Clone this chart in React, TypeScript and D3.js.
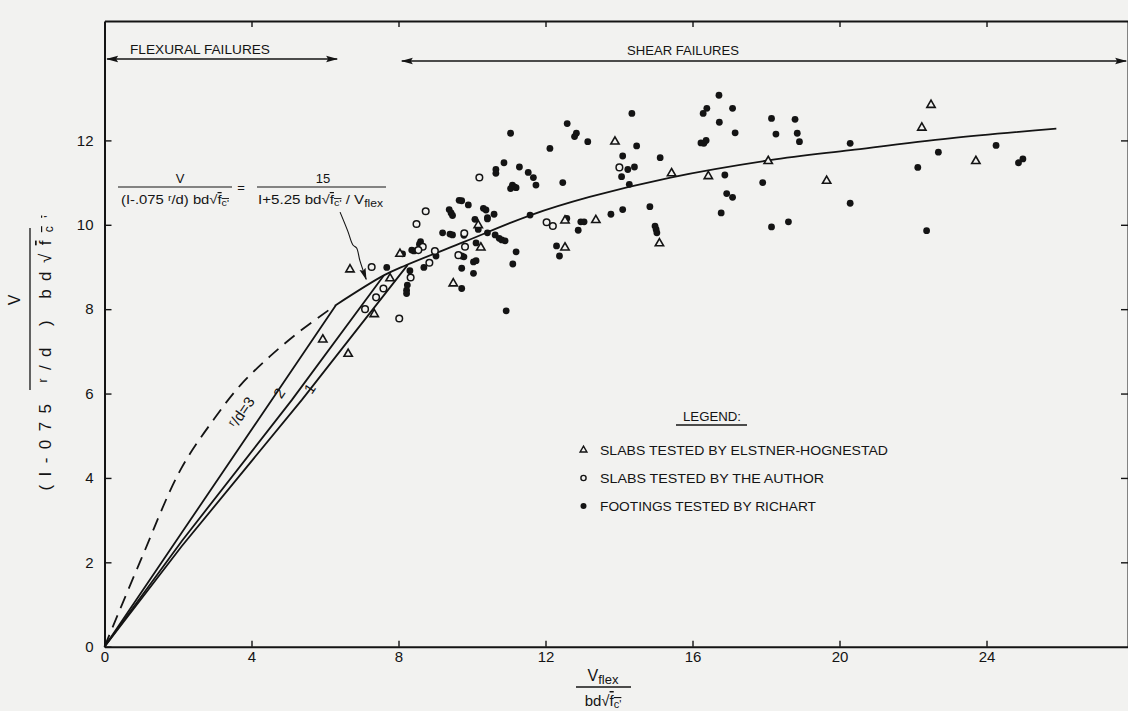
import React, { useRef, useEffect } from "react";
import * as d3 from "d3";

type Pt = [number, number];

// axis ticks
const xTicks = [0, 4, 8, 12, 16, 20, 24];
const yTicks = [0, 2, 4, 6, 8, 10, 12];
const topTicks = [4, 8, 12, 16, 20, 24];
const rightTicks = [2, 4, 6, 8, 10, 12];

// design curves
const shearCurve: Pt[] = [
  [6.3, 8.1], [7.6, 8.8], [8.2, 9.04], [9.8, 9.6], [11.6, 10.23], [13.2, 10.66],
  [15.4, 11.12], [18.1, 11.53], [20.3, 11.77], [23, 12.05], [25.9, 12.28],
];
const dashedCurve: Pt[] = [
  [0, 0], [1, 2.08], [2.06, 4.18], [3, 5.42], [3.7, 6.2], [4.5, 6.88], [5.35, 7.5], [6.3, 8.1],
];
const rd3Line: Pt[] = [[0, 0], [2.1, 2.7], [4.55, 5.85], [6.3, 8.1]];
const rd2Line: Pt[] = [[0, 0], [2.1, 2.5], [5.1, 5.85], [7.6, 8.8]];
const rd1Line: Pt[] = [[0, 0], [2.1, 2.38], [5.37, 5.85], [8.25, 9.05]];

// test results
const elstner: Pt[] = [
  [6.68, 8.94], [8.04, 9.31], [7.77, 8.73], [7.34, 7.88], [10.17, 9.99], [10.24, 9.46],
  [9.49, 8.61], [12.53, 10.1], [12.53, 9.46], [5.94, 7.28], [6.63, 6.94], [13.89, 11.97],
  [13.37, 10.11], [15.1, 9.56], [15.43, 11.22], [16.43, 11.15], [18.06, 11.51], [19.65, 11.04],
  [22.49, 12.84], [22.24, 12.3], [23.71, 11.51],
];
const author: Pt[] = [
  [10.2, 11.12], [8.74, 10.32], [8.49, 10.02], [7.27, 9.0], [9.79, 9.8], [9.81, 9.48],
  [9.63, 9.28], [8.99, 9.38], [8.84, 9.1], [8.66, 9.48], [8.54, 9.4], [8.33, 8.75],
  [7.59, 8.49], [7.39, 8.28], [7.09, 8.0], [8.02, 7.78], [12.03, 10.06], [12.2, 9.97],
  [14.01, 11.36],
];
const richart: Pt[] = [
  [12.12, 11.81], [10.87, 11.47], [10.65, 11.31], [10.65, 11.22], [11.29, 11.37], [11.53, 11.24],
  [11.67, 11.12], [11.74, 10.94], [11.1, 10.94], [11.15, 10.9], [11.05, 10.86], [11.2, 10.88],
  [12.47, 11.0], [9.65, 10.58], [9.72, 10.57], [9.9, 10.47], [9.38, 10.36], [9.43, 10.28],
  [9.47, 10.22], [10.31, 10.39], [10.38, 10.35], [10.42, 10.17], [10.42, 10.14], [10.6, 10.25],
  [10.08, 10.13], [9.2, 9.81], [9.4, 9.78], [9.47, 9.76], [10.17, 9.89], [10.42, 9.81],
  [10.63, 9.76], [10.74, 9.68], [10.81, 9.64], [10.9, 9.62], [11.58, 10.23], [9.78, 9.75],
  [10.11, 9.57], [9.02, 9.26], [8.6, 9.6], [8.57, 9.54], [8.36, 9.4], [8.42, 9.38],
  [8.11, 9.31], [7.68, 8.99], [8.31, 8.91], [8.69, 8.99], [9.72, 9.26], [9.78, 9.24],
  [10.04, 9.12], [10.11, 9.15], [9.72, 8.97], [10.04, 8.85], [9.72, 8.49], [8.24, 8.57],
  [8.22, 8.45], [8.22, 8.37], [11.2, 9.36], [11.11, 9.07], [10.93, 7.96], [12.3, 9.5],
  [12.38, 9.26], [12.58, 10.15], [12.89, 9.87], [12.96, 10.07], [13.05, 10.07], [11.05, 12.17],
  [12.59, 12.4], [12.84, 12.17], [12.79, 12.09], [13.15, 11.97], [14.35, 12.64], [14.48, 11.87],
  [14.1, 11.63], [14.24, 11.31], [14.42, 11.37], [14.07, 11.14], [14.28, 10.96], [15.12, 11.59],
  [13.78, 10.25], [14.1, 10.36], [14.84, 10.43], [14.98, 9.97], [15.01, 9.89], [15.03, 9.81],
  [16.29, 12.64], [16.39, 12.76], [16.72, 13.07], [17.09, 12.76], [16.73, 12.43], [17.16, 12.18],
  [16.23, 11.94], [16.31, 11.93], [16.37, 12.0], [16.88, 11.18], [16.93, 10.74], [17.09, 10.65],
  [16.78, 10.28], [18.15, 12.52], [18.27, 12.15], [18.79, 12.5], [18.85, 12.17], [18.91, 11.97],
  [17.91, 11.0], [18.15, 9.95], [18.61, 10.07], [20.29, 11.93], [20.29, 10.51], [22.69, 11.72],
  [22.13, 11.36], [24.26, 11.88], [24.87, 11.47], [24.99, 11.56], [22.37, 9.86],
];

const legendItems = [
  { kind: "tri", label: "SLABS TESTED BY ELSTNER-HOGNESTAD", len: 288 },
  { kind: "open", label: "SLABS TESTED BY THE AUTHOR", len: 224 },
  { kind: "dot", label: "FOOTINGS TESTED BY RICHART", len: 216 },
];

const W = 1128;
const H = 711;
const INK = "#141414";
const PAPER = "#f2f2f0";
const FONT = "'Liberation Sans', Arial, sans-serif";

const Chart = () => {
  const ref = useRef<SVGSVGElement>(null);

  useEffect(() => {
    if (!ref.current) return;
    const svg = d3.select(ref.current);
    svg.selectAll("*").remove();

    const x = d3.scaleLinear().domain([0, 27.85]).range([104.5, 1128]);
    const y = d3.scaleLinear().domain([0, 14.83]).range([646.7, 21]);

    svg.append("rect").attr("width", W).attr("height", H).attr("fill", PAPER);

    const defs = svg.append("defs");
    defs
      .append("marker")
      .attr("id", "head")
      .attr("viewBox", "0 0 12 8")
      .attr("refX", 11)
      .attr("refY", 4)
      .attr("markerWidth", 12)
      .attr("markerHeight", 8)
      .attr("markerUnits", "userSpaceOnUse")
      .attr("orient", "auto-start-reverse")
      .append("path")
      .attr("d", "M0,0.8 L12,4 L0,7.2 L2,4 Z")
      .attr("fill", INK);

    // axes
    const styleAxis = (g: any) => {
      g.select(".domain").attr("stroke", INK).attr("stroke-width", 2);
      g.selectAll(".tick line").attr("stroke", INK).attr("stroke-width", 1.4);
      g.selectAll("text")
        .attr("fill", INK)
        .attr("font-size", 15)
        .attr("font-family", FONT);
    };

    svg
      .append("g")
      .attr("transform", `translate(0,${y(0)})`)
      .call(d3.axisBottom(x).tickValues(xTicks).tickSize(-6).tickSizeOuter(0).tickPadding(5).tickFormat(d3.format("d")))
      .call(styleAxis);

    svg
      .append("g")
      .attr("transform", `translate(${x(0)},0)`)
      .call(d3.axisLeft(y).tickValues(yTicks).tickSize(-7).tickSizeOuter(0).tickPadding(11).tickFormat(d3.format("d")))
      .call(styleAxis);

    svg
      .append("g")
      .attr("transform", `translate(0,${y(14.83)})`)
      .call(d3.axisTop(x).tickValues(topTicks).tickSize(-6).tickSizeOuter(0).tickFormat(() => ""))
      .call(styleAxis);

    svg
      .append("g")
      .attr("transform", `translate(${x(27.85)},0)`)
      .call(d3.axisRight(y).tickValues(rightTicks).tickSize(-7).tickSizeOuter(0).tickFormat(() => ""))
      .call(styleAxis);

    // curves
    const smooth = d3
      .line<Pt>()
      .x((d) => x(d[0]))
      .y((d) => y(d[1]))
      .curve(d3.curveCatmullRom.alpha(0.5));
    const straight = d3
      .line<Pt>()
      .x((d) => x(d[0]))
      .y((d) => y(d[1]));

    const curves = svg.append("g").attr("fill", "none").attr("stroke", INK).attr("stroke-width", 1.8);
    curves.append("path").attr("d", smooth(shearCurve));
    curves.append("path").attr("d", smooth(dashedCurve)).attr("stroke-dasharray", "13,8");
    curves.append("path").attr("d", straight(rd3Line));
    curves.append("path").attr("d", straight(rd2Line));
    curves.append("path").attr("d", straight(rd1Line));

    // r/d labels along the lines
    const rdLabel = (px: number, py: number, parts: (g: any) => void) => {
      const t = svg
        .append("text")
        .attr("transform", `translate(${x(px)},${y(py)}) rotate(-56)`)
        .attr("text-anchor", "middle")
        .attr("font-size", 15)
        .attr("font-family", FONT)
        .attr("fill", INK);
      parts(t);
    };
    rdLabel(3.85, 5.49, (t) => {
      t.append("tspan").attr("font-size", 11).attr("dy", -4).text("r");
      t.append("tspan").attr("dy", 4).text("/d=3");
    });
    rdLabel(4.87, 5.94, (t) => t.text("2"));
    rdLabel(5.7, 6.05, (t) => t.text("1"));

    // arrow from formula to curve
    const arrowPts: Pt[] = [[6.41, 10.3], [6.62, 9.85], [6.76, 9.52], [6.86, 9.45], [6.95, 9.15], [7.12, 8.71]];
    svg
      .append("path")
      .attr("d", d3.line<Pt>().x((d) => x(d[0])).y((d) => y(d[1])).curve(d3.curveCatmullRom)(arrowPts))
      .attr("fill", "none")
      .attr("stroke", INK)
      .attr("stroke-width", 1.1)
      .attr("marker-end", "url(#head)");

    // points
    const pts = svg.append("g");
    pts
      .selectAll("circle.dot")
      .data(richart)
      .enter()
      .append("circle")
      .attr("class", "dot")
      .attr("cx", (d) => x(d[0]))
      .attr("cy", (d) => y(d[1]))
      .attr("r", 3.4)
      .attr("fill", INK);
    pts
      .selectAll("circle.open")
      .data(author)
      .enter()
      .append("circle")
      .attr("class", "open")
      .attr("cx", (d) => x(d[0]))
      .attr("cy", (d) => y(d[1]))
      .attr("r", 3.3)
      .attr("fill", PAPER)
      .attr("stroke", INK)
      .attr("stroke-width", 1.5);
    const tri = d3.symbol().type(d3.symbolTriangle).size(30);
    pts
      .selectAll("path.tri")
      .data(elstner)
      .enter()
      .append("path")
      .attr("class", "tri")
      .attr("d", tri)
      .attr("transform", (d) => `translate(${x(d[0])},${y(d[1])})`)
      .attr("fill", PAPER)
      .attr("stroke", INK)
      .attr("stroke-width", 1.6);

    // failure-zone arrows
    const zone = svg.append("g").attr("stroke", INK).attr("stroke-width", 1.5);
    zone
      .append("line")
      .attr("x1", x(0.07)).attr("x2", x(6.33))
      .attr("y1", 59).attr("y2", 59)
      .attr("marker-start", "url(#head)")
      .attr("marker-end", "url(#head)");
    zone
      .append("line")
      .attr("x1", x(8.09)).attr("x2", x(27.8))
      .attr("y1", 61).attr("y2", 61)
      .attr("marker-start", "url(#head)")
      .attr("marker-end", "url(#head)");

    const txt = (tx: number, ty: number, s: string, size: number, len?: number, anchor = "start") => {
      const t = svg
        .append("text")
        .attr("x", tx)
        .attr("y", ty)
        .attr("font-size", size)
        .attr("font-family", FONT)
        .attr("fill", INK)
        .attr("text-anchor", anchor)
        .text(s);
      if (len) t.attr("textLength", len).attr("lengthAdjust", "spacingAndGlyphs");
      return t;
    };
    txt(130, 54, "FLEXURAL FAILURES", 13, 140);
    txt(627, 55, "SHEAR FAILURES", 13, 112);

    // formula
    txt(180, 183, "V", 13, undefined, "middle");
    svg.append("line").attr("x1", 118).attr("x2", 232).attr("y1", 187).attr("y2", 187).attr("stroke", INK).attr("stroke-width", 1.2);
    {
      const t = txt(121, 204, "", 12.5, 108);
      t.append("tspan").text("(I-.075 ");
      t.append("tspan").attr("font-size", 9).attr("dy", -3).text("r");
      t.append("tspan").attr("dy", 3).text("/d) bd√");
      t.append("tspan").attr("text-decoration", "overline").text("f");
      t.append("tspan").attr("font-size", 9).attr("dy", 2).attr("text-decoration", "overline").text("c'");
    }
    txt(241, 192, "=", 13, undefined, "middle");
    txt(323, 183, "15", 13, undefined, "middle");
    svg.append("line").attr("x1", 257).attr("x2", 386).attr("y1", 187).attr("y2", 187).attr("stroke", INK).attr("stroke-width", 1.2);
    {
      const t = txt(258, 204, "", 12.5, 125);
      t.append("tspan").text("I+5.25 bd√");
      t.append("tspan").attr("text-decoration", "overline").text("f");
      t.append("tspan").attr("font-size", 9).attr("dy", 2).attr("text-decoration", "overline").text("c'");
      t.append("tspan").attr("dy", -2).text(" / V");
      t.append("tspan").attr("font-size", 10).attr("dy", 3).text("flex");
    }

    // y-axis title
    svg
      .append("text")
      .attr("transform", "translate(20,300) rotate(-90)")
      .attr("text-anchor", "middle")
      .attr("font-size", 16)
      .attr("font-family", FONT)
      .attr("fill", INK)
      .text("V");
    svg.append("line").attr("x1", 30).attr("x2", 30).attr("y1", 228).attr("y2", 390).attr("stroke", INK).attr("stroke-width", 1.3);
    {
      const t = svg
        .append("text")
        .attr("transform", "translate(51,353) rotate(-90)")
        .attr("text-anchor", "middle")
        .attr("font-size", 17)
        .attr("font-family", FONT)
        .attr("fill", INK)
        .attr("textLength", 275)
        .attr("lengthAdjust", "spacing");
      t.append("tspan").text("(I-075  ");
      t.append("tspan").attr("font-size", 12).attr("dy", -4).text("r");
      t.append("tspan").attr("dy", 4).text("/d ) bd√");
      t.append("tspan").attr("text-decoration", "overline").text("f");
      t.append("tspan").attr("font-size", 12).attr("dy", 2).attr("text-decoration", "overline").text("c'");
    }

    // x-axis title
    {
      const t = txt(603, 681, "", 16, undefined, "middle");
      t.append("tspan").text("V");
      t.append("tspan").attr("font-size", 13).attr("dy", 3).text("flex");
    }
    svg.append("line").attr("x1", 576).attr("x2", 631).attr("y1", 687).attr("y2", 687).attr("stroke", INK).attr("stroke-width", 1.3);
    {
      const t = txt(603, 706, "", 15, undefined, "middle");
      t.append("tspan").text("bd√");
      t.append("tspan").attr("text-decoration", "overline").text("f");
      t.append("tspan").attr("font-size", 11).attr("dy", 2).attr("text-decoration", "overline").text("c'");
    }

    // legend
    txt(683, 421, "LEGEND:", 13, 58);
    svg.append("line").attr("x1", 676).attr("x2", 747).attr("y1", 425).attr("y2", 425).attr("stroke", INK).attr("stroke-width", 1.3);
    const leg = svg.append("g");
    legendItems.forEach((it, i) => {
      const cy = 450 + i * 28;
      if (it.kind === "tri") {
        leg.append("path")
          .attr("d", d3.symbol().type(d3.symbolTriangle).size(20)())
          .attr("transform", `translate(583.5,${cy})`)
          .attr("fill", PAPER).attr("stroke", INK).attr("stroke-width", 1.4);
      } else if (it.kind === "open") {
        leg.append("circle").attr("cx", 583.5).attr("cy", cy).attr("r", 2.6)
          .attr("fill", PAPER).attr("stroke", INK).attr("stroke-width", 1.4);
      } else {
        leg.append("circle").attr("cx", 583.5).attr("cy", cy).attr("r", 3).attr("fill", INK);
      }
      txt(600, cy + 5, it.label, 13, it.len);
    });
  }, []);

  return <svg ref={ref} width={W} height={H} style={{ position: "absolute", left: 0, top: 0, display: "block" }} />;
};

export default function App() {
  return <Chart />;
}
